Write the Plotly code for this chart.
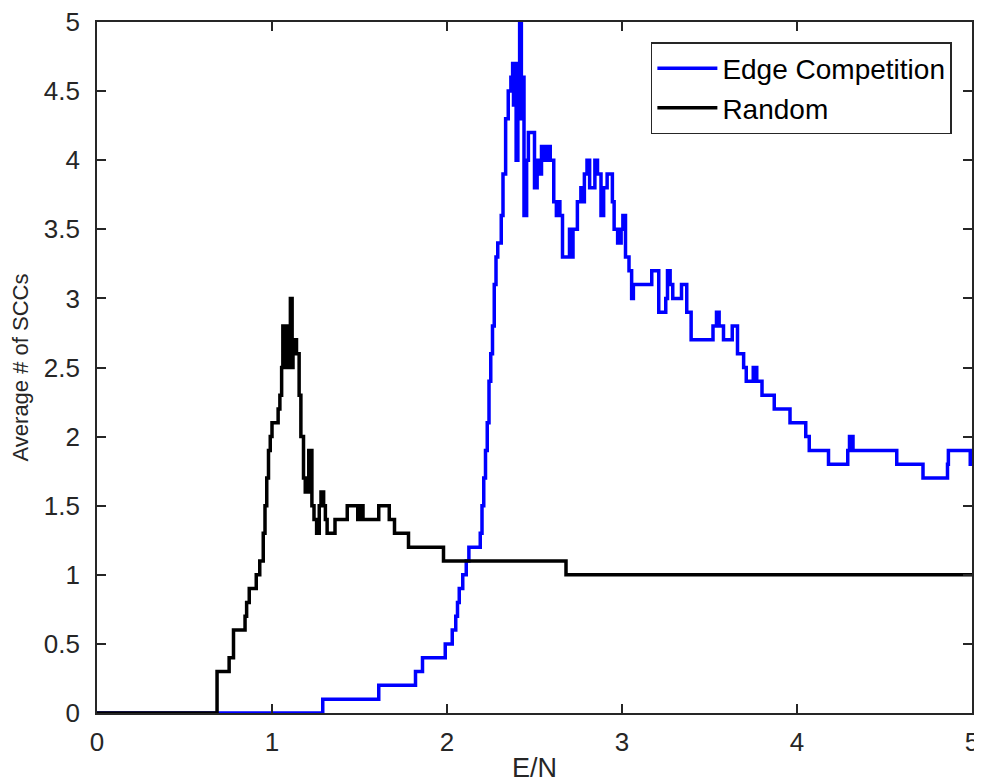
import plotly.graph_objects as go

# Random (black) step curve: change points and levels
random_x = [0, 0.686, 0.755, 0.78, 0.846, 0.855, 0.87, 0.91, 0.93, 0.95, 0.96, 0.97, 0.98, 0.99,
            1.0, 1.035, 1.045, 1.055, 1.062, 1.08, 1.085, 1.09, 1.105, 1.115, 1.12, 1.14, 1.155,
            1.165, 1.18, 1.19, 1.21, 1.228, 1.24, 1.255, 1.27, 1.28, 1.295, 1.305, 1.315, 1.36,
            1.43, 1.49, 1.50, 1.52, 1.61, 1.67, 1.70, 1.78, 1.98, 2.68, 5.0]
random_y = [0, 0.3, 0.4, 0.6, 0.7, 0.8, 0.9, 1.0, 1.1, 1.3, 1.5, 1.7, 1.9, 2.0,
            2.1, 2.2, 2.3, 2.5, 2.8, 2.5, 2.8, 2.5, 3.0, 2.5, 2.7, 2.6, 2.3,
            2.0, 1.7, 1.6, 1.9, 1.5, 1.4, 1.3, 1.5, 1.6, 1.5, 1.4, 1.3, 1.4,
            1.5, 1.4, 1.5, 1.4, 1.5, 1.4, 1.3, 1.2, 1.1, 1.0, 1.0]

# Edge Competition (blue) step curve
edge_x = [0, 1.29, 1.61, 1.82, 1.86, 1.99, 2.03, 2.05, 2.06, 2.07, 2.09, 2.11, 2.125, 2.19,
          2.20, 2.21, 2.22, 2.23, 2.24, 2.25, 2.26, 2.27, 2.28, 2.29, 2.31, 2.32, 2.335, 2.35,
          2.365, 2.375, 2.38, 2.385, 2.395, 2.405, 2.415, 2.425, 2.432, 2.44, 2.455, 2.465,
          2.50, 2.515, 2.525, 2.54, 2.56, 2.57, 2.59, 2.61, 2.625, 2.635, 2.645, 2.66, 2.70,
          2.71, 2.72, 2.745, 2.765, 2.775, 2.785, 2.80, 2.815, 2.845, 2.86, 2.88, 2.895, 2.915,
          2.945, 2.955, 2.975, 2.995, 3.005, 3.02, 3.04, 3.055, 3.065, 3.17, 3.21, 3.25, 3.26,
          3.275, 3.29, 3.34, 3.37, 3.395, 3.52, 3.54, 3.555, 3.58, 3.63, 3.66, 3.695, 3.71,
          3.75, 3.77, 3.80, 3.87, 3.96, 4.05, 4.07, 4.18, 4.29, 4.30, 4.32, 4.57, 4.72, 4.86,
          4.865, 4.99, 5.0]
edge_y = [0, 0.1, 0.2, 0.3, 0.4, 0.5, 0.6, 0.7, 0.8, 0.9, 1.0, 1.1, 1.2, 1.3,
          1.5, 1.7, 1.9, 2.1, 2.4, 2.6, 2.8, 3.1, 3.3, 3.4, 3.6, 3.9, 4.3, 4.5,
          4.6, 4.7, 4.4, 4.7, 4.0, 4.4, 5.0, 4.3, 4.6, 3.6, 4.0, 4.2,
          3.8, 4.0, 3.9, 4.1, 4.0, 4.1, 4.0, 3.7, 3.6, 3.7, 3.6, 3.3, 3.5,
          3.3, 3.5, 3.7, 3.8, 3.7, 3.9, 4.0, 3.8, 4.0, 3.9, 3.6, 3.8, 3.9,
          3.7, 3.5, 3.4, 3.5, 3.6, 3.3, 3.2, 3.0, 3.1, 3.2, 2.9, 3.0, 3.2,
          3.1, 3.0, 3.1, 2.9, 2.7, 2.8, 2.9, 2.8, 2.7, 2.8, 2.6, 2.5, 2.4,
          2.5, 2.4, 2.3, 2.2, 2.1, 2.0, 1.9, 1.8, 1.9, 2.0, 1.9, 1.8, 1.7, 1.8,
          1.9, 1.8, 1.8]

x_ticks = [0, 1, 2, 3, 4, 5]
y_ticks = [0, 0.5, 1, 1.5, 2, 2.5, 3, 3.5, 4, 4.5, 5]
y_tick_labels = ["0", "0.5", "1", "1.5", "2", "2.5", "3", "3.5", "4", "4.5", "5"]

axis_color = "#262626"
font_family = "Liberation Sans, Arial, sans-serif"

fig = go.Figure()
fig.add_trace(go.Scatter(x=edge_x, y=edge_y, mode="lines", name="Edge Competition",
                         line=dict(color="#0000ff", width=3.5, shape="hv")))
fig.add_trace(go.Scatter(x=random_x, y=random_y, mode="lines", name="Random",
                         line=dict(color="#000000", width=3.5, shape="hv")))

common_axis = dict(showline=True, linecolor=axis_color, linewidth=1.8, mirror="allticks",
                   ticks="inside", ticklen=9, tickwidth=1.5, tickcolor=axis_color,
                   showgrid=False, zeroline=False, automargin=False,
                   ticklabeloverflow="allow",
                   tickfont=dict(family=font_family, size=26, color=axis_color))

fig.update_xaxes(range=[0, 5], tickvals=x_ticks, ticktext=[str(v) for v in x_ticks],
                 ticklabelstandoff=5,
                 title=dict(text="E/N", font=dict(family=font_family, size=27, color=axis_color),
                            standoff=2),
                 **common_axis)
fig.update_yaxes(range=[0, 5], tickvals=y_ticks, ticktext=y_tick_labels,
                 ticklabelstandoff=10,
                 title=dict(text="Average # of SCCs", font=dict(family=font_family, size=22, color=axis_color),
                            standoff=16),
                 **common_axis)

# The page body has an 8px default margin, so the figure is sized/offset to compensate
fig.update_layout(
    width=974, height=776,
    margin=dict(l=89, r=10, t=14, b=71, pad=0),
    paper_bgcolor="white", plot_bgcolor="white",
    showlegend=True,
    legend=dict(x=0.977, y=0.971, xanchor="right", yanchor="top",
                bgcolor="white", bordercolor=axis_color, borderwidth=1.5,
                font=dict(family=font_family, size=28, color="#000000"),
                itemwidth=60, tracegroupgap=0),
)

fig.write_html("out.html")
